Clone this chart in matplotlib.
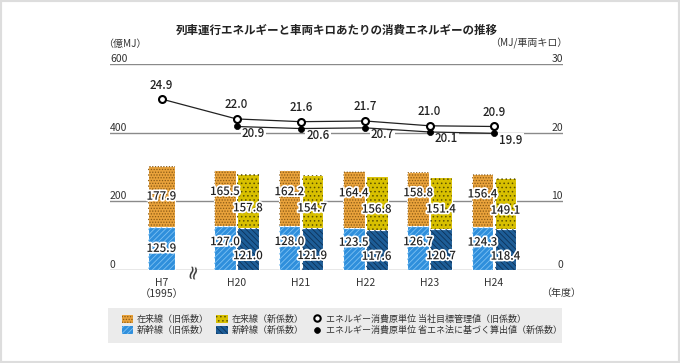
import numpy as np
import matplotlib
matplotlib.use("Agg")
import matplotlib.pyplot as plt
import matplotlib.patheffects as pe
from matplotlib.patches import Patch, Rectangle
from matplotlib.lines import Line2D

plt.rcParams['font.family'] = ['Noto Sans CJK JP', 'DejaVu Sans']
plt.rcParams['hatch.linewidth'] = 0.6

# data (億MJ, MJ/車両キロ)
years = ['H7\n（1995）', 'H20', 'H21', 'H22', 'H23', 'H24']
old_shinkansen = [125.9, 127.0, 128.0, 123.5, 126.7, 124.3]
old_zairai = [177.9, 165.5, 162.2, 164.4, 158.8, 156.4]
new_shinkansen = [121.0, 121.9, 117.6, 120.7, 118.4]   # H20-H24
new_zairai = [157.8, 154.7, 156.8, 151.4, 149.1]
unit_old = [24.9, 22.0, 21.6, 21.7, 21.0, 20.9]
unit_new = [20.9, 20.6, 20.7, 20.1, 19.9]              # H20-H24
left_ticks = [0, 200, 400, 600]
right_ticks = [0, 10, 20, 30]

# colours: face, hatch
c_zairai_old = ('#e9a23b', '#8a5a14')
c_zairai_new = ('#d8c000', '#5c5200')
c_shin_old = ('#2f8fdc', '#7cc0f2')
c_shin_new = ('#1d5d97', '#0d3258')

x = np.array([0, 1.165, 2.165, 3.165, 4.165, 5.165])
x_new = x[1:]
w = 0.335
off = 0.178

fig = plt.figure(figsize=(6.8, 3.63), dpi=100)
ax = fig.add_axes([110 / 680, 1 - 270 / 363, 453 / 680, 206 / 363])
ax.set_xlim(-0.80, 6.236)
ax.set_ylim(0, 600)
for s in ax.spines.values():
    s.set_visible(False)
ax.set_yticks(left_ticks)
ax.set_yticklabels([])
ax.tick_params(axis='y', length=0)
ax.yaxis.grid(True, color='#8a8a8a', lw=1.0)
ax.set_axisbelow(True)

x_old = x.copy()
x_old[1:] = x[1:] - off
w_old = [0.42] + [w] * 5


def hatched_bar(xs, h, bottom, width, colors, hatch):
    ax.bar(xs, h, width, bottom=bottom, color=colors[0], edgecolor='white', lw=0.8, zorder=2)
    ax.bar(xs, h, width, bottom=bottom, facecolor='none', edgecolor=colors[1], lw=0, hatch=hatch, zorder=2.5)


hatched_bar(x_old, old_shinkansen, 0, w_old, c_shin_old, '//////')
hatched_bar(x_old, old_zairai, old_shinkansen, w_old, c_zairai_old, '......')
hatched_bar(x_new + off, new_shinkansen, 0, w, c_shin_new, '\\\\\\\\\\\\')
hatched_bar(x_new + off, new_zairai, new_shinkansen, w, c_zairai_new, '....')

stroke = [pe.withStroke(linewidth=2.5, foreground='white')]


def bar_label(xp, yp, val, dy):
    ax.annotate(f"{val:.1f}", (xp, yp), xytext=(0, dy), textcoords='offset pixels',
                ha='center', va='center', fontsize=8.3, fontweight='medium', color='#222222',
                path_effects=stroke, zorder=5)


for i in range(len(x)):
    dy = 0 if i == 0 else 6.5
    bar_label(x_old[i], old_shinkansen[i] / 2, old_shinkansen[i], dy)
    bar_label(x_old[i], old_shinkansen[i] + old_zairai[i] / 2, old_zairai[i], dy)
for i in range(len(x_new)):
    bar_label(x_new[i] + off, new_shinkansen[i] / 2, new_shinkansen[i], -6.5)
    bar_label(x_new[i] + off, new_shinkansen[i] + new_zairai[i] / 2, new_zairai[i], -6.5)

ax.set_xticks(x)
ax.set_xticklabels(years, fontsize=7.5, color='#333333', linespacing=1.1)
ax.tick_params(axis='x', length=0, pad=6)

# left/right tick labels sit on top of the grid lines
for t in left_ticks:
    ax.text(0, t, str(t), transform=ax.get_yaxis_transform(), ha='left', va='bottom',
            fontsize=7.5, color='#333333')
ax.text(-0.015, 1.075, '（億MJ）', transform=ax.transAxes, ha='left', va='bottom',
        fontsize=7.2, color='#333333')

ax2 = ax.twinx()
ax2.set_ylim(0, 30)
ax2.set_xlim(ax.get_xlim())
ax2.axis('off')
for t in right_ticks:
    ax2.text(1, t, str(t), transform=ax2.get_yaxis_transform(), ha='right', va='bottom',
             fontsize=7.5, color='#333333')
ax2.text(1.01, 1.075, '（MJ/車両キロ）', transform=ax2.transAxes, ha='right', va='bottom',
         fontsize=7.2, color='#333333')

ax2.plot(x, unit_old, color='#222222', lw=0.9, marker='o', ms=5.0, mfc='white',
         mec='black', mew=1.5, zorder=4)
ax2.plot(x_new, unit_new, color='#222222', lw=0.9, marker='o', ms=4.4, mfc='black',
         mec='black', mew=0.5, zorder=4)
for xi, v in zip(x, unit_old):
    ax2.annotate(f"{v:.1f}", (xi, v), xytext=(0, 14), textcoords='offset pixels',
                 ha='center', va='center', fontsize=8.3, fontweight='medium', color='#222222')
for xi, v in zip(x_new, unit_new):
    ax2.annotate(f"{v:.1f}", (xi, v), xytext=(17, -7), textcoords='offset pixels',
                 ha='center', va='center', fontsize=8.3, fontweight='medium', color='#222222',
                 bbox=dict(boxstyle='square,pad=0.1', fc='white', ec='none'))

# axis break mark
ax.text(0.49, 0, '≈', rotation=78, ha='center', va='center', fontsize=14,
        family='DejaVu Sans', color='#333333', zorder=3)
ax.text(0.995, -0.085, '（年度）', transform=ax.transAxes, ha='center', va='top',
        fontsize=7.2, color='#333333')

fig.suptitle('列車運行エネルギーと車両キロあたりの消費エネルギーの推移', x=337 / 680,
             y=1 - 30 / 363, va='center', fontsize=8.3, fontweight='bold', color='#222222')

# legend
fig.patches.append(Rectangle((108 / 680, 20 / 363), 454 / 680, 35 / 363, transform=fig.transFigure,
                             facecolor='#ebebeb', edgecolor='none', zorder=0))
handles = [
    Patch(facecolor=c_zairai_old[0], edgecolor=c_zairai_old[1], lw=0, hatch='......'),
    Patch(facecolor=c_shin_old[0], edgecolor=c_shin_old[1], lw=0, hatch='//////'),
    Patch(facecolor=c_zairai_new[0], edgecolor=c_zairai_new[1], lw=0, hatch='....'),
    Patch(facecolor=c_shin_new[0], edgecolor=c_shin_new[1], lw=0, hatch='\\\\\\\\\\\\'),
    Line2D([], [], ls='none', marker='o', ms=4.6, mfc='white', mec='black', mew=1.5),
    Line2D([], [], ls='none', marker='o', ms=4.2, mfc='black', mec='black', mew=0.5),
]
labels = ['在来線（旧係数）', '新幹線（旧係数）', '在来線（新係数）', '新幹線（新係数）',
          'エネルギー消費原単位 当社目標管理値（旧係数）',
          'エネルギー消費原単位 省エネ法に基づく算出値（新係数）']
fig.legend(handles, labels, ncol=3, loc='center left', bbox_to_anchor=(117 / 680, 1 - 325 / 363),
           frameon=False, fontsize=6.5, handlelength=1.3, handleheight=0.9,
           columnspacing=0.8, handletextpad=0.4, labelspacing=0.25, borderpad=0,
           labelcolor='#333333')

fig.patches.append(Rectangle((0, 0), 1, 1, transform=fig.transFigure, fill=False,
                             edgecolor='#dddddd', lw=3, zorder=0))

fig.savefig('out.png', dpi=100)
